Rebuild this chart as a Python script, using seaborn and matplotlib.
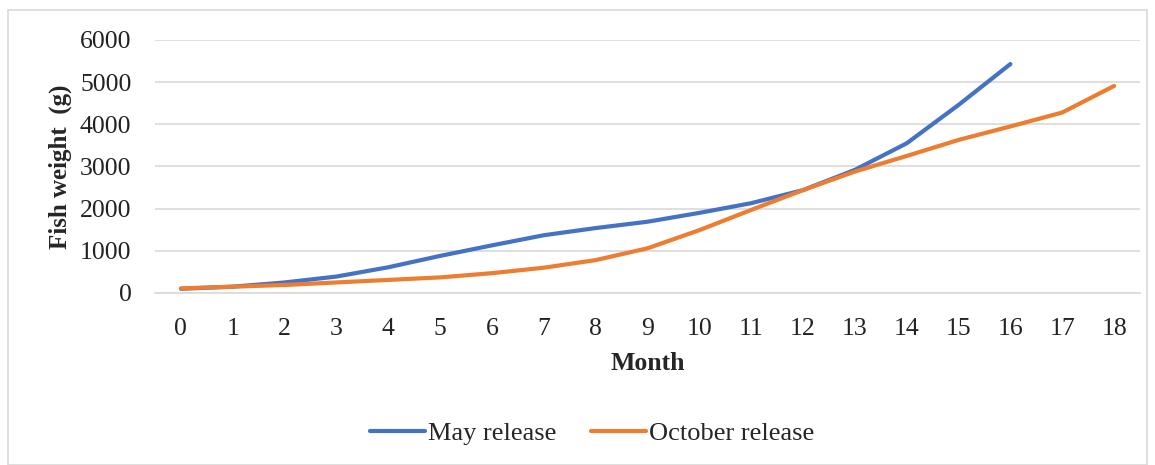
import pandas as pd
import matplotlib.pyplot as plt
import seaborn as sns
from matplotlib.patches import Rectangle

# Data
months_may = list(range(0, 17))
may_weight = [100, 150, 250, 390, 610, 880, 1130, 1370, 1540, 1690, 1900,
              2130, 2440, 2920, 3550, 4460, 5430]

months_oct = list(range(0, 19))
oct_weight = [110, 150, 190, 250, 310, 370, 470, 600, 780, 1060, 1490,
              1970, 2440, 2880, 3250, 3630, 3950, 4280, 4910]

series_names = ["May release", "October release"]
colors = ["#4472C4", "#ED7D31"]

df = pd.concat([
    pd.DataFrame({"Month": months_may, "Weight": may_weight, "Release": series_names[0]}),
    pd.DataFrame({"Month": months_oct, "Weight": oct_weight, "Release": series_names[1]}),
])

sns.set_theme(style="white")
plt.rcParams['font.family'] = ['Liberation Serif', 'DejaVu Serif']

fig = plt.figure(figsize=(11.55, 4.65), dpi=100)
ax = fig.add_axes([0.1342, 0.3699, 0.8528, 0.5441])

sns.lineplot(data=df, x="Month", y="Weight", hue="Release",
             palette=dict(zip(series_names, colors)), linewidth=3.0,
             ax=ax, legend=True)
for line in ax.get_lines():
    line.set_solid_capstyle("round")

ax.set_xlim(-0.5, 18.5)
ax.set_ylim(0, 6000)
ax.set_xticks(months_oct)
ax.set_yticks(range(0, 6001, 1000))
ax.yaxis.grid(True, color="#d9d9d9", linewidth=1.2)
ax.set_axisbelow(True)
for s in ["top", "right", "left"]:
    ax.spines[s].set_visible(False)
ax.spines["bottom"].set_color("#d9d9d9")
ax.spines["bottom"].set_linewidth(1.2)
ax.tick_params(axis="both", length=0, labelsize=18.5, colors="#222222")
ax.tick_params(axis="y", pad=17)
ax.tick_params(axis="x", pad=18)

ax.set_xlabel("Month", fontsize=18.5, fontweight="bold", labelpad=9)
ax.set_ylabel("Fish weight  (g)", fontsize=18, fontweight="bold", labelpad=6)

handles, labels = ax.get_legend_handles_labels()
ax.legend(handles, labels, loc="center", bbox_to_anchor=(592 / 1155, 1 - 433 / 465),
          bbox_transform=fig.transFigure, ncol=2, frameon=False,
          fontsize=19, handlelength=2.1, handletextpad=0.1, columnspacing=1.3)

# outer chart border
fig.patches.append(Rectangle((8 / 1155, 0.0), 1139 / 1155, 1 - 10 / 465,
                             transform=fig.transFigure, fill=False,
                             edgecolor="#d9d9d9", linewidth=1.2))

fig.savefig("out.png", dpi=100)
